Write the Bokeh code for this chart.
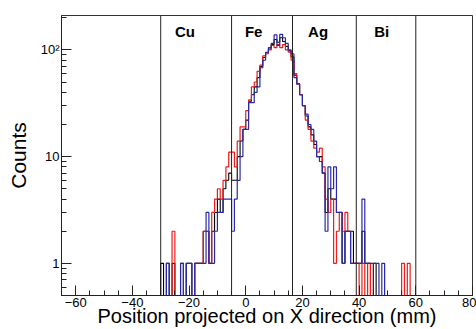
import numpy as np
from bokeh.plotting import figure
from bokeh.models import FixedTicker, Span
from bokeh.core.properties import value
from bokeh.embed import file_html
from bokeh.resources import INLINE

# ---- data -------------------------------------------------------------
# 1 mm bins, first bin starts at -30 mm (values outside are zero)
bin_start = -30
blue_counts = [0, 0, 1, 0, 0, 0, 0, 1, 0, 1, 1, 0, 1, 1, 1, 1, 3, 1, 1, 2,
               3, 3, 4, 4, 4, 2, 4, 6, 10, 18,
               18, 32, 32, 40, 45, 68, 80, 95, 105, 115,
               138, 110, 140, 130, 115, 100, 92, 55, 48, 38,
               30, 25, 20, 18, 14, 10, 9, 7, 2, 8,
               5, 8, 3, 3, 1, 2, 2, 1, 1, 1,
               1, 4, 1, 1, 1, 1, 1, 0, 1, 0,
               0, 0, 0, 0, 0, 0, 0, 0]
red_counts = [0, 0, 0, 0, 2, 0, 0, 0, 0, 0, 0, 0, 1, 1, 1, 2, 2, 1, 3, 4,
              5, 4, 6, 8, 11, 11, 8, 14, 19, 19,
              27, 34, 45, 50, 63, 72, 88, 92, 100, 110,
              105, 112, 105, 112, 100, 95, 80, 60, 48, 38,
              30, 22, 18, 14, 12, 11, 12, 8, 4, 3,
              4, 1, 2, 3, 2, 3, 2, 1, 1, 1,
              0, 1, 0, 1, 0, 0, 0, 0, 0, 0,
              0, 0, 0, 0, 0, 1, 0, 1]
black_counts = [1, 0, 1, 0, 1, 0, 0, 1, 0, 1, 1, 0, 1, 1, 1, 2, 2, 1, 2, 3,
                4, 3, 5, 6, 7, 6, 6, 10, 14, 18,
                22, 33, 38, 45, 55, 70, 85, 94, 102, 112,
                125, 118, 130, 120, 108, 98, 86, 58, 48, 38,
                30, 24, 19, 16, 13, 10, 10, 7, 3, 5,
                4, 4, 3, 3, 1, 2, 2, 2, 1, 1,
                1, 2, 1, 1, 0, 1, 0, 0, 0, 0,
                0, 0, 0, 0, 0, 0, 0, 0]

boundaries = [-30, -5, 16.5, 39, 60]
element_names = ["Cu", "Fe", "Ag", "Bi"]
element_x = [-25, -0.3, 22, 45.3]

x_ticks = [-60, -40, -20, 0, 20, 40, 60, 80]
y_ticks = [1, 10, 100]
y_tick_labels = {1: "1", 10: "10", 100: "10²"}

# ---- figure -----------------------------------------------------------
XMIN, XMAX = -65, 80
YMIN, YMAX = 0.5, 210

p = figure(width=476, height=329, x_range=(XMIN, XMAX), y_range=(YMIN, YMAX),
           y_axis_type="log", output_backend="svg", toolbar_location=None,
           min_border_left=61, min_border_right=4, min_border_top=15,
           min_border_bottom=33)
p.grid.visible = False
p.outline_line_color = "#333333"
p.outline_line_width = 1
p.background_fill_color = "white"
p.border_fill_color = "white"

FONT = "Liberation Sans"


def hist_line(counts, color, width):
    c = np.zeros(XMAX - XMIN)
    off = bin_start - XMIN
    c[off:off + len(counts)] = counts
    edges = np.arange(XMIN, XMAX + 1)
    xs = np.repeat(edges, 2)[1:-1]
    ys = np.repeat(np.maximum(c, YMIN), 2)
    p.line(xs, ys, line_color=color, line_width=width)


hist_line(black_counts, "black", 1.1)
hist_line(red_counts, "#f21a1a", 1.2)
hist_line(blue_counts, "#2a2aa8", 1.2)

for b in boundaries:
    p.add_layout(Span(location=b, dimension="height", line_color="#222222",
                      line_width=1))

p.text(x=element_x, y=[150] * len(element_x), text=element_names,
       text_font=value(FONT), text_font_size="15px", text_font_style="bold",
       text_align="left", text_baseline="alphabetic", text_color="black")

# axes
for ax in (p.xaxis[0], p.yaxis[0]):
    ax.axis_line_color = "#222222"
    ax.major_tick_in = 10
    ax.major_tick_out = 0
    ax.minor_tick_in = 5
    ax.minor_tick_out = 0
    ax.major_tick_line_color = "#222222"
    ax.minor_tick_line_color = "#222222"
    ax.major_label_text_font = FONT
    ax.major_label_text_font_size = "13px"
    ax.major_label_text_color = "black"
    ax.axis_label_text_font = FONT
    ax.axis_label_text_font_style = "normal"
    ax.axis_label_text_color = "black"

p.xaxis.ticker = FixedTicker(ticks=x_ticks,
                             minor_ticks=list(range(-65, 81, 5)))
p.xaxis.axis_label = "Position projected on X direction (mm)"
p.xaxis.axis_label_text_font_size = "20px"
p.xaxis.major_label_standoff = 2
p.xaxis.axis_label_standoff = -5

minor_y = [0.5, 0.6, 0.7, 0.8, 0.9] + list(range(2, 10)) + \
    list(range(20, 100, 10)) + [200]
p.yaxis.ticker = FixedTicker(ticks=y_ticks, minor_ticks=minor_y)
p.yaxis.major_label_overrides = y_tick_labels
p.yaxis.axis_label = "Counts"
p.yaxis.axis_label_text_font_size = "21px"
p.yaxis.major_label_standoff = 2
p.yaxis.axis_label_standoff = 8

open("out.html", "w").write(file_html(p, INLINE))
